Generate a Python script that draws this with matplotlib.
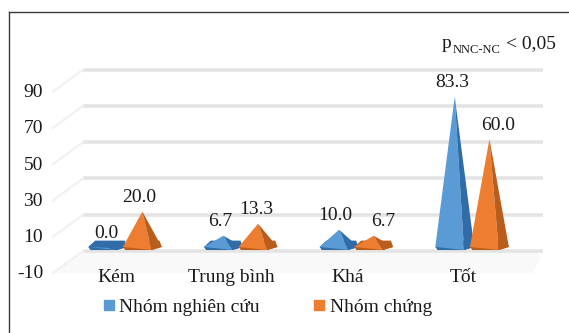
import matplotlib
matplotlib.use("Agg")
import matplotlib.pyplot as plt
from matplotlib.transforms import ScaledTranslation
from matplotlib.lines import Line2D
from matplotlib.patches import Polygon

# ---- data ----
categories = ["Kém", "Trung bình", "Khá", "Tốt"]
series_names = ["Nhóm nghiên cứu", "Nhóm chứng"]
nghien_cuu = [0.0, 6.7, 10.0, 83.3]
chung = [20.0, 13.3, 6.7, 60.0]
y_ticks = [-10, 10, 30, 50, 70, 90]
p_text_main = "p"
p_text_sub = "NNC-NC"
p_text_tail = "< 0,05"

FONT = ["Liberation Serif", "DejaVu Serif"]
plt.rcParams["font.family"] = FONT

W, H, DPI = 569, 333, 100
fig = plt.figure(figsize=(W / DPI, H / DPI), dpi=DPI)
fig.patch.set_facecolor("white")

# axes in pixel layout
ax_l, ax_r, ax_top, ax_bot = 83, 543, 66.5, 266
ax = fig.add_axes([ax_l / W, (H - ax_bot) / H, (ax_r - ax_l) / W, (ax_bot - ax_top) / H])
xmin, xmax = -0.363, 3.613
ymin, ymax = -10, 100
ax.set_xlim(xmin, xmax)
ax.set_ylim(ymin, ymax)
ax.axis("off")

ppu = (ax_bot - ax_top) / (ymax - ymin)          # pixels per value unit
ppx = (ax_r - ax_l) / (xmax - xmin)              # pixels per category unit


def off(dx, dy):
    return ax.transData + ScaledTranslation(dx / DPI, dy / DPI, fig.dpi_scale_trans)


# floor
floor = Polygon([(xmin, ymin + 15 / ppu), (xmax, ymin + 15 / ppu),
                 (xmax - 10 / ppx, ymin - 7 / ppu), (xmin - 30 / ppx, ymin - 7 / ppu)],
                closed=True, facecolor="#f9f9f9", edgecolor="none", clip_on=False, zorder=0)
ax.add_patch(floor)

# back-wall gridlines and side-wall diagonals
for v in y_ticks:
    ax.plot([xmin, xmax], [v, v], transform=off(0, 15), color="#e4e4e4",
            lw=2.6, solid_capstyle="butt", clip_on=False, zorder=1)
    ax.plot([xmin - 30 / ppx, xmin], [v - 7 / ppu, v + 15 / ppu], color="#f1f1f1",
            lw=1.6, clip_on=False, zorder=1)

# y tick labels (front edge)
for v in y_ticks:
    ax.text(xmin, v, str(v), transform=off(-40, -12.5), ha="right",
            va="baseline", fontsize=14, color="#1a1a1a", clip_on=False)

# category labels
for i, c in enumerate(categories):
    ax.text(i, ymin, c, transform=off(-9, -16), ha="center", va="baseline",
            fontsize=14, color="#1a1a1a", clip_on=False)

# pyramids
sep = 0.15
hw = 0.168
colors = [("#5B9BD5", "#2F6CA8"), ("#ED7D31", "#B85D1C")]
label_dx = [[-1, -3, -4, -2], [-3, -2, 10, 9]]


def pyramid(xc, v, light, dark, z):
    xf = xc + 0.08
    base = Polygon([(xc - hw, 0.5), (xc - hw + 0.06, 4.0), (xc + hw - 0.02, 4.0),
                    (xc + hw, 0.5), (xf, -1.2), (xc - hw + 0.02, -1.2)], closed=True,
                   facecolor=dark, edgecolor="none", zorder=z)
    ax.add_patch(base)
    left = Polygon([(xc - hw, 0.5), (xc, v), (xf, -1.2)], closed=True,
                   facecolor=light, edgecolor="none", zorder=z + 0.1)
    right = Polygon([(xf, -1.2), (xc, v), (xc + hw, 0.5)], closed=True,
                    facecolor=dark, edgecolor="none", zorder=z + 0.1)
    ax.add_patch(left)
    ax.add_patch(right)


for s, vals in enumerate([nghien_cuu, chung]):
    for i, v in enumerate(vals):
        xc = i + (-sep if s == 0 else sep)
        pyramid(xc, v, colors[s][0], colors[s][1], 3 + s)
        ax.text(xc, v, f"{v:.1f}", transform=off(label_dx[s][i], 9.5), ha="center",
                va="baseline", fontsize=14, color="#1a1a1a", zorder=10, clip_on=False)

# p-value annotation
fig.text(442 / W, 1 - 48 / H, p_text_main, fontsize=14, ha="left", va="baseline", color="#1a1a1a")
fig.text(453 / W, 1 - 53 / H, p_text_sub, fontsize=9, ha="left", va="baseline", color="#1a1a1a")
fig.text(506 / W, 1 - 48 / H, p_text_tail, fontsize=14, ha="left", va="baseline", color="#1a1a1a")

# legend
handles = [Line2D([], [], marker="s", ls="none", markersize=7, color=colors[s][0],
                  label=series_names[s]) for s in range(2)]
fig.legend(handles=handles, loc="center", bbox_to_anchor=(267 / W, 1 - 307 / H), ncol=2,
           frameon=False, fontsize=14, handlelength=0.7, handletextpad=0.2,
           columnspacing=2.7, borderpad=0, labelcolor="#1a1a1a")

# chart frame (left & top edges)
fig.add_artist(Line2D([8.5 / W, 8.5 / W], [0, 1 - 11.5 / H], color="#3a3a3a", lw=1.0))
fig.add_artist(Line2D([8.5 / W, 1], [1 - 11.5 / H, 1 - 11.5 / H], color="#3a3a3a", lw=1.0))

fig.savefig("out.png", dpi=DPI, facecolor="white")
